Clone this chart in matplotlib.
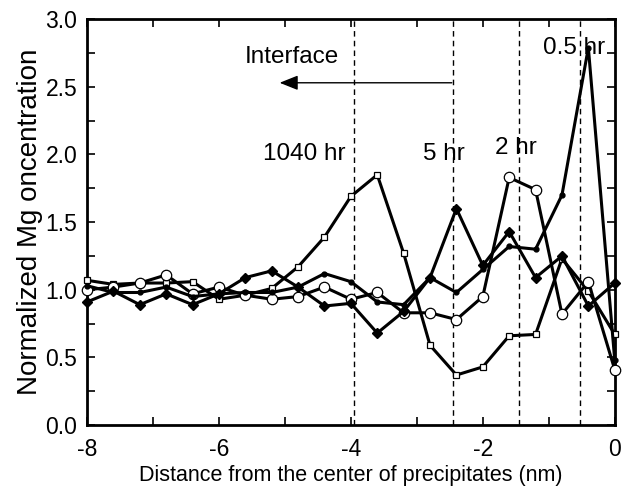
import matplotlib
matplotlib.use("Agg")
import matplotlib.pyplot as plt
from matplotlib.ticker import MultipleLocator, FormatStrFormatter

plt.rcParams['font.family'] = ['Liberation Sans', 'DejaVu Sans']

# distance from the precipitate centre (nm)
dist = [-8.0, -7.6, -7.2, -6.8, -6.4, -6.0, -5.6, -5.2, -4.8, -4.4, -4.0,
        -3.6, -3.2, -2.8, -2.4, -2.0, -1.6, -1.2, -0.8, -0.4, 0.0]

mg_1040hr = [1.07, 1.04, 1.05, 1.05, 1.06, 0.93, 0.96, 1.01, 1.17, 1.39, 1.69,
             1.85, 1.27, 0.59, 0.37, 0.43, 0.66, 0.67, 1.23, 0.99, 0.67]
mg_2hr = [1.00, 1.02, 1.05, 1.11, 0.97, 1.02, 0.96, 0.93, 0.95, 1.02, 0.93,
          0.98, 0.83, 0.83, 0.78, 0.95, 1.83, 1.74, 0.82, 1.06, 0.41]
mg_5hr = [0.91, 0.99, 0.89, 0.97, 0.89, 0.97, 1.09, 1.14, 1.02, 0.88, 0.90,
          0.68, 0.84, 1.09, 1.60, 1.18, 1.43, 1.09, 1.25, 0.88, 1.05]
mg_05hr = [1.03, 0.98, 0.98, 1.02, 0.95, 0.97, 0.98, 0.98, 1.02, 1.12, 1.06,
           0.91, 0.89, 1.09, 0.98, 1.15, 1.32, 1.30, 1.70, 2.79, 0.48]

interfaces = [-3.95, -2.45, -1.45, -0.52]

fig = plt.figure(figsize=(6.26, 4.92), dpi=100)
ax = fig.add_axes([0.139, 0.136, 0.843, 0.825])

for x in interfaces:
    ax.axvline(x, color='black', lw=1.0, ls=(0, (4, 3)), zorder=1)

lw = 2.2
ax.plot(dist, mg_1040hr, color='black', lw=lw, marker='s', ms=5,
        mfc='white', mec='black', mew=0.9, zorder=3, clip_on=False)
ax.plot(dist, mg_2hr, color='black', lw=lw, marker='o', ms=7.5,
        mfc='white', mec='black', mew=0.9, zorder=3, clip_on=False)
ax.plot(dist, mg_5hr, color='black', lw=lw, marker='D', ms=5.5,
        mfc='black', mec='black', zorder=3, clip_on=False)
ax.plot(dist, mg_05hr, color='black', lw=lw, marker='o', ms=3.5,
        mfc='black', mec='black', zorder=3, clip_on=False)

fs = 17.5
ax.text(-4.70, 2.0, '1040 hr', fontsize=fs, ha='center', va='center')
ax.text(-2.59, 2.0, '5 hr', fontsize=fs, ha='center', va='center')
ax.text(-1.50, 2.05, '2 hr', fontsize=fs, ha='center', va='center')
ax.text(-0.61, 2.79, '0.5 hr', fontsize=fs, ha='center', va='center')
ax.text(-4.89, 2.72, 'Interface', fontsize=fs, ha='center', va='center')
ax.annotate('', xy=(-5.08, 2.53), xytext=(-2.47, 2.53),
            arrowprops=dict(arrowstyle='-|>,head_length=0.7,head_width=0.28',
                            color='black', lw=1.0, mutation_scale=16,
                            shrinkA=0, shrinkB=0))

ax.set_xlim(-8, 0)
ax.set_ylim(0, 3.0)
ax.xaxis.set_major_locator(MultipleLocator(2))
ax.xaxis.set_minor_locator(MultipleLocator(1))
ax.yaxis.set_major_locator(MultipleLocator(0.5))
ax.yaxis.set_minor_locator(MultipleLocator(0.25))
ax.tick_params(which='both', direction='in', top=True, right=True,
               labelsize=16.5, width=1.2, length=6)
ax.tick_params(axis='x', pad=9)
ax.tick_params(axis='y', pad=7)
ax.yaxis.set_major_formatter(FormatStrFormatter('%.1f'))
ax.xaxis.set_major_formatter(FormatStrFormatter('%d'))
for s in ax.spines.values():
    s.set_linewidth(2.0)

ax.set_xlabel('Distance from the center of precipitates (nm)', fontsize=15.5,
              labelpad=3)
ax.set_ylabel('Normalized Mg oncentration', fontsize=20, labelpad=2)

fig.savefig('out.png', dpi=100)
